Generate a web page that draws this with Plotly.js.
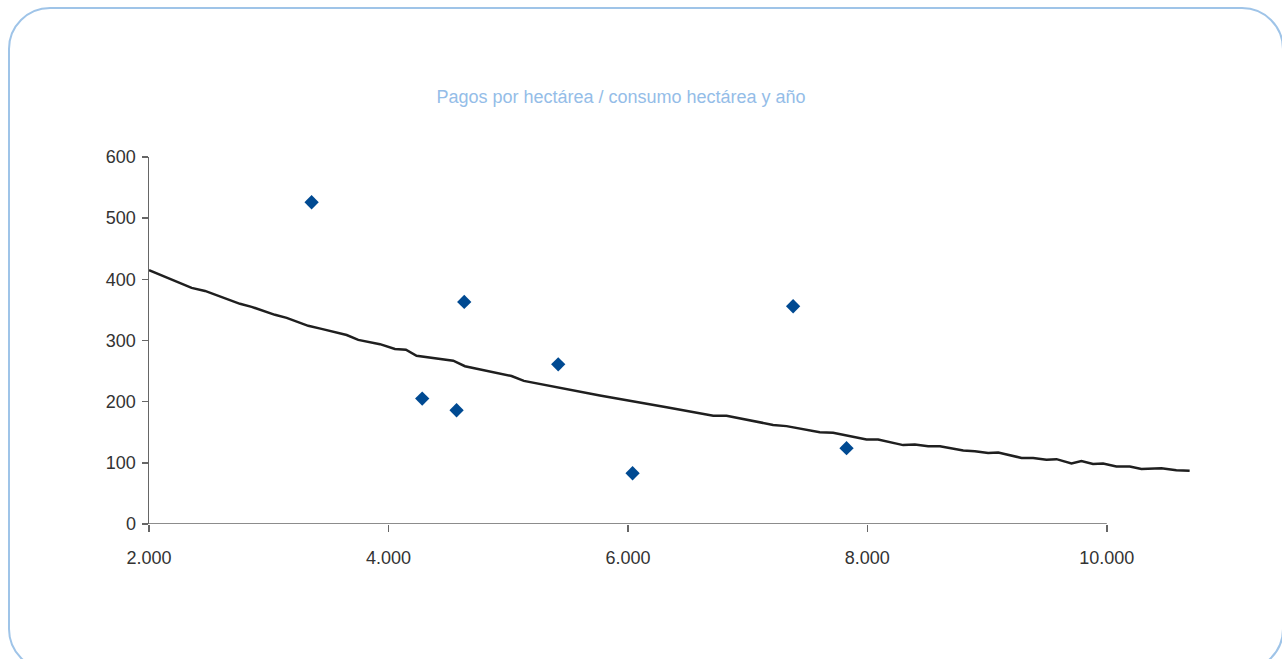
<!DOCTYPE html>
<html>
<head>
<meta charset="utf-8">
<script src="https://cdn.plot.ly/plotly-3.0.1.min.js"></script>
<style>
  html, body { margin: 0; padding: 0; background: #ffffff; }
  #wrap { position: relative; width: 1282px; height: 659px; overflow: hidden; }
  #chart { position: absolute; left: 0; top: 0; width: 1282px; height: 659px; }
  #frame { position: absolute; left: 8px; top: 7px; width: 1276px; height: 664px;
           border: 2px solid #9fc4e8; border-radius: 42px; box-sizing: border-box; pointer-events: none; }
</style>
</head>
<body>
<div id="wrap">
  <div id="chart"></div>
  <div id="frame"></div>
</div>
<script>
// Scatter points (consumo vs pagos)
const pointX = [3358, 4282, 4569, 4633, 5418, 6039, 7380, 7826];
const pointY = [526, 205, 186, 363, 261, 83, 356, 124];

// Trend line as drawn
const trendX = [2000, 2356, 2468, 2760, 2857, 3052, 3150, 3330, 3441, 3553, 3651, 3748, 3929, 4054, 4146, 4235,
                4541, 4639, 4931, 5028, 5131, 5766, 6323, 6713, 6824, 7213, 7325, 7603, 7714, 7993, 8090, 8299,
                8397, 8508, 8606, 8801, 8898, 9009, 9093, 9288, 9385, 9496, 9580, 9705, 9788, 9885, 9969, 10080,
                10192, 10289, 10456, 10581, 10692];
const trendY = [415, 386, 381, 360, 355, 342, 337, 324, 319, 313, 309, 301, 294, 286, 285, 275,
                267, 258, 246, 242, 234, 210, 191, 177, 177, 162, 160, 150, 149, 138, 138, 129,
                130, 127, 127, 120, 119, 116, 117, 108, 108, 105, 106, 99, 103, 98, 99, 94,
                94, 90, 91, 88, 87];

const xTickVals = [2000, 4000, 6000, 8000, 10000];
const xTickText = ['2.000', '4.000', '6.000', '8.000', '10.000'];
const yTickVals = [0, 100, 200, 300, 400, 500, 600];
const yTickText = ['0', '100', '200', '300', '400', '500', '600'];

const titleText = 'Pagos por hectárea / consumo hectárea y año';

const font = 'Liberation Sans, Arial, sans-serif';

const traces = [
  {
    x: trendX, y: trendY, type: 'scatter', mode: 'lines',
    line: { color: '#1f1f1f', width: 2.5 },
    hoverinfo: 'skip', showlegend: false
  },
  {
    x: pointX, y: pointY, type: 'scatter', mode: 'markers',
    marker: { symbol: 'diamond', size: 11, color: '#004a92' },
    showlegend: false
  }
];

const layout = {
  width: 1282, height: 659,
  margin: { l: 149, r: 89, t: 157, b: 135 },
  paper_bgcolor: '#ffffff', plot_bgcolor: 'rgba(0,0,0,0)',
  showlegend: false,
  title: {
    text: titleText,
    font: { family: font, size: 18, color: '#94bde8' },
    x: 621 / 1282, xref: 'container', xanchor: 'center',
    y: 1 - 97 / 659, yref: 'container', yanchor: 'middle'
  },
  xaxis: {
    range: [2000, 10720],
    tickvals: xTickVals, ticktext: xTickText,
    ticks: 'outside', ticklen: 7, tickwidth: 1.5, tickcolor: '#666666',
    showline: false, showgrid: false, zeroline: false,
    ticklabelstandoff: 10,
    tickfont: { family: font, size: 18, color: '#333333' },
    fixedrange: true
  },
  yaxis: {
    range: [0, 600],
    tickvals: yTickVals, ticktext: yTickText,
    ticks: 'outside', ticklen: 6, tickwidth: 1.5, tickcolor: '#666666',
    showline: true, linecolor: '#666666', linewidth: 1.5,
    showgrid: false, zeroline: false,
    ticklabelstandoff: 2,
    tickfont: { family: font, size: 18, color: '#333333' },
    fixedrange: true
  },
  shapes: [
    { type: 'line', xref: 'x', yref: 'y', x0: xTickVals[0], x1: xTickVals[xTickVals.length - 1], y0: 0, y1: 0,
      line: { color: '#666666', width: 1.5 }, layer: 'below' }
  ]
};

Plotly.newPlot('chart', traces, layout, { displayModeBar: false, staticPlot: true });
</script>
</body>
</html>
